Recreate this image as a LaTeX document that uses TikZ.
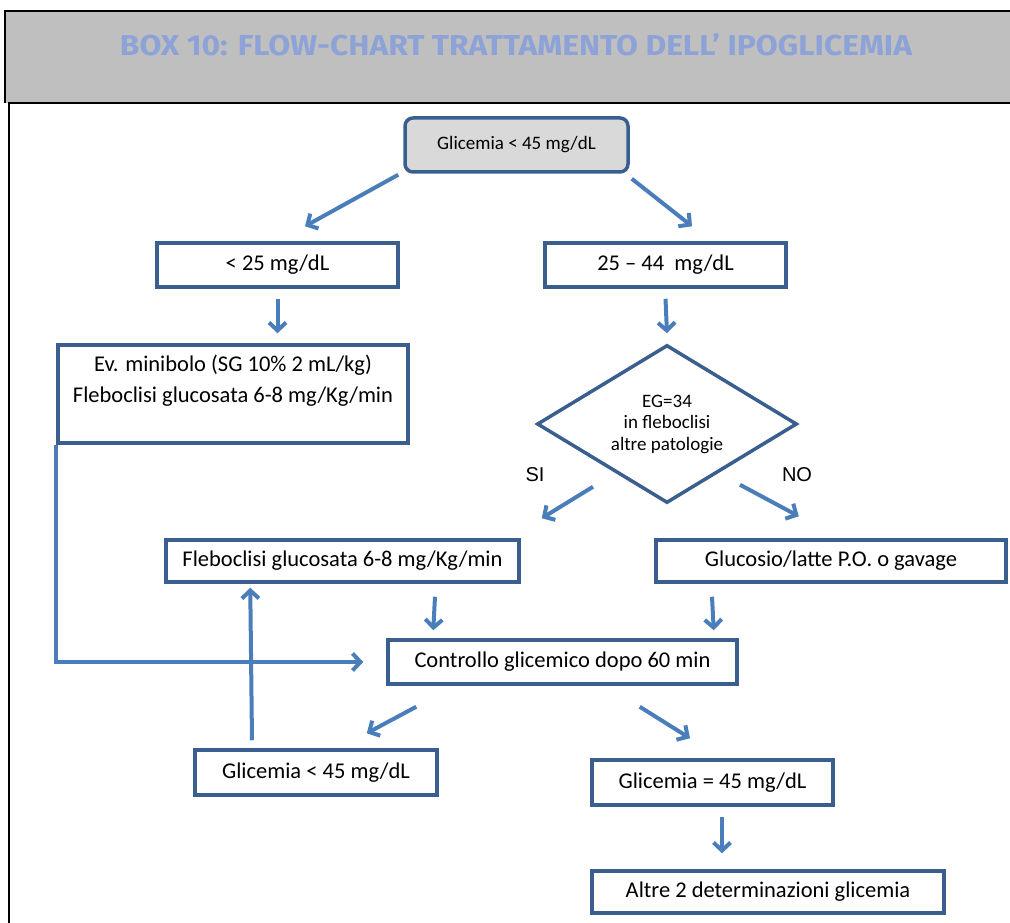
\documentclass[tikz,border=0pt]{standalone}
\usepackage{fontspec}
\usepackage{graphicx}
\setmainfont{Carlito}
\newfontfamily\titlefont{Fira Sans}
\newfontfamily\arialfont{Liberation Sans}
\usetikzlibrary{arrows.meta,shapes.geometric}
\definecolor{boxblue}{HTML}{3A5F8F}
\definecolor{arrblue}{HTML}{4A7EBB}
\definecolor{titleblue}{HTML}{8DA2D6}
\definecolor{hdrgray}{HTML}{BFBFBF}
\definecolor{topgray}{HTML}{D9D9D9}
\begin{document}
\begin{tikzpicture}[x=1pt,y=-1pt,
  box/.style={draw=boxblue,line width=3.5pt,fill=white,inner sep=0pt,align=center,
    font=\fontsize{22.5}{31}\selectfont},
  arr/.style={draw=arrblue,line width=4pt,-{Straight Barb[length=8pt,width=17pt]}},
  lab/.style={font=\arialfont\fontsize{20}{24}\selectfont},
]
\useasboundingbox (0,0) rectangle (1010,923);
% header
\fill[hdrgray] (5,11) rectangle (1010,103);
\draw[black,line width=1.2pt] (1010,11) -- (5,11) -- (5,103);
\draw[black,line width=2.2pt] (1010,103) -- (9,103) -- (9,923);
\node[text=titleblue,inner sep=0pt] (title) at (516,45)
  {\resizebox{792pt}{22pt}{\titlefont\bfseries BOX 10: FLOW-CHART TRATTAMENTO DELL’ IPOGLICEMIA}};
% nodes
\node[box,fill=topgray,rounded corners=8pt,minimum width=223pt,minimum height=54pt,
  font=\fontsize{19}{23}\selectfont] (top) at (516.5,145) {Glicemia < 45 mg/dL};
\node[box,minimum width=241pt,minimum height=44pt] (a) at (277.5,265) {< 25 mg/dL};
\node[box,minimum width=241pt,minimum height=44pt] (b) at (665.5,265) {25 – 44\ \ mg/dL};
\node[box,minimum width=350pt,minimum height=98pt] (c) at (233,394)
  {Ev. minibolo (SG 10\% 2 mL/kg)\\Fleboclisi glucosata 6-8 mg/Kg/min\\\mbox{}};
\node[diamond,draw=boxblue,line width=3.5pt,fill=white,inner sep=0pt,
  minimum width=260pt,minimum height=158pt] (d) at (667,424) {};
\node[align=center,inner sep=0pt,font=\fontsize{19}{21.5}\selectfont] (dtext) at (d.center)
  {EG=34\\in fleboclisi\\altre patologie};
\node[box,minimum width=353pt,minimum height=42pt] (e) at (342.5,561) {Fleboclisi glucosata 6-8 mg/Kg/min};
\node[box,minimum width=350pt,minimum height=42pt] (f) at (831,561) {Glucosio/latte P.O. o gavage};
\node[box,minimum width=349pt,minimum height=44pt] (g) at (562.5,662) {Controllo glicemico dopo 60 min};
\node[box,minimum width=242pt,minimum height=45pt] (h) at (316,772.5) {Glicemia < 45 mg/dL};
\node[box,minimum width=241pt,minimum height=45pt] (i) at (712.5,782.5) {Glicemia = 45 mg/dL};
\node[box,minimum width=352pt,minimum height=42pt] (j) at (768,892) {Altre 2 determinazioni glicemia};
\node[lab] (si) at (535,475) {SI};
\node[lab] (no) at (797,475) {NO};
% connectors
\draw[arr] ([shift={(-5,1)}]top.south west) -- ([shift={(27.5,-15)}]a.north);
\draw[arr] ([shift={(2,5)}]top.south east) -- ([shift={(26.5,-15)}]b.north);
\draw[arr] ([shift={(0,10)}]a.south) -- ([shift={(0,-10)}]a.south |- c.north);
\draw[arr] ([shift={(0,10)}]b.south) -- ([shift={(0,-10)}]d.north);
\draw[arr] ([shift={(-74,-18)}]d.south) -- ([shift={(21,-20)}]e.north east);
\draw[arr] ([shift={(73,-20)}]d.south) -- ([shift={(0,-22)}]d.east |- f.north);
\draw[arr] ([shift={(92.5,13)}]e.south) -- ([shift={(47,-8)}]g.north west);
\draw[arr] ([shift={(-119,13)}]f.south) -- ([shift={(-25,-8)}]g.north east);
\draw[arr] (c.south west) -- (c.south west |- g.west) -- ([shift={(-23,0)}]g.west);
\draw[arr] ([shift={(-64,-8)}]h.north) -- ([shift={(86,4)}]e.south west);
\draw[arr] ([shift={(30,21)}]g.south west) -- ([shift={(-72,-15)}]h.north east);
\draw[arr] ([shift={(-99,21)}]g.south east) -- ([shift={(-22.5,-20)}]i.north);
\draw[arr] ([shift={(9.5,10)}]i.south) -- ([shift={(-46,-16)}]j.north);
\end{tikzpicture}
\end{document}
